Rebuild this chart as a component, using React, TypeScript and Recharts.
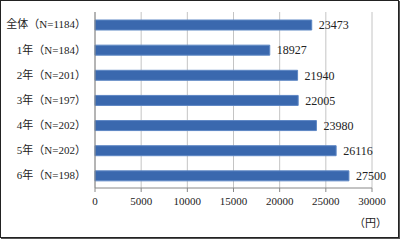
import { BarChart, Bar, XAxis, YAxis, CartesianGrid, LabelList } from 'recharts'

const categories = [
  '全体（N=1184）',
  '1年（N=184）',
  '2年（N=201）',
  '3年（N=197）',
  '4年（N=202）',
  '5年（N=202）',
  '6年（N=198）',
]
const amounts = [23473, 18927, 21940, 22005, 23980, 26116, 27500]
const xTicks = [0, 5000, 10000, 15000, 20000, 25000, 30000]
// band edges on the category axis, used only for the small tick marks
const bandEdges = [0, 1, 2, 3, 4, 5, 6, 7]
const unitLabel = '（円）'

const FONT = "'Liberation Serif', 'Noto Sans CJK JP', serif"

export default function App() {
  const data = categories.map((name, i) => ({ name, value: amounts[i] }))

  return (
    <div style={{ position: 'absolute', left: 0, top: 0, width: 400, height: 240, background: '#fff', fontFamily: FONT }}>
      <BarChart
        width={400}
        height={240}
        layout="vertical"
        data={data}
        margin={{ top: 12, right: 28, left: 0, bottom: 32 }}
      >
        <CartesianGrid horizontal={false} stroke="#c4c4c4" />
        <XAxis
          type="number"
          domain={[0, 30000]}
          ticks={xTicks}
          interval={0}
          stroke="#888"
          tickSize={4}
          tickMargin={5}
          height={20}
          tick={{ fontSize: 11, fill: '#222', fontFamily: FONT }}
        />
        <YAxis
          yAxisId="edges"
          type="number"
          domain={[0, 7]}
          ticks={bandEdges}
          width={0}
          axisLine={false}
          tick={false}
          tickSize={4}
          stroke="#888"
        />
        <YAxis
          type="category"
          dataKey="name"
          width={95}
          stroke="#888"
          tickLine={false}
          tickSize={0}
          tickMargin={9}
          interval={0}
          tick={{ fontSize: 11, fill: '#222', fontFamily: FONT }}
        />
        <Bar dataKey="value" fill="#3a68ae" stroke="#5d87c4" strokeWidth={1} barSize={10} isAnimationActive={false}>
          <LabelList dataKey="value" position="right" offset={7} fill="#222" fontSize={12} fontFamily={FONT} />
        </Bar>
      </BarChart>
      <div style={{ position: 'absolute', left: 354, top: 214, fontSize: 11, color: '#222', fontFamily: FONT }}>{unitLabel}</div>
      <div
        style={{
          position: 'absolute',
          left: 0,
          top: 0,
          width: 397,
          height: 236,
          border: '1px solid #222',
          boxShadow: '1px 1px 0 #555',
          pointerEvents: 'none',
        }}
      />
    </div>
  )
}
